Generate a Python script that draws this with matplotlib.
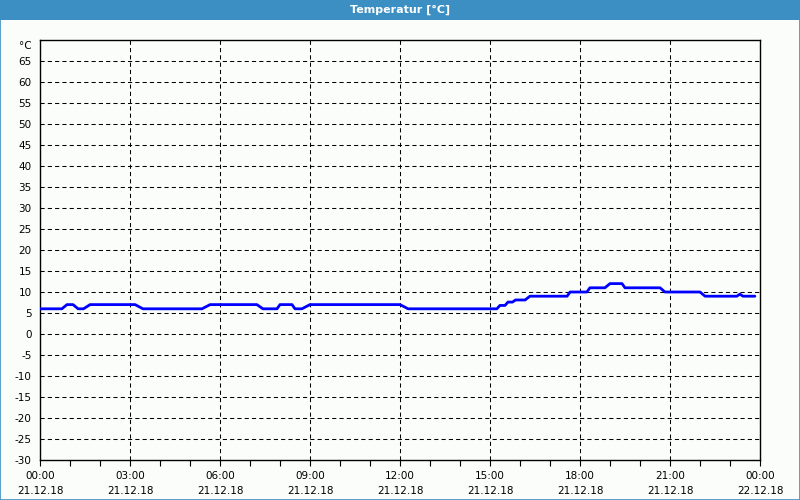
import matplotlib.pyplot as plt
from matplotlib.patches import Rectangle

# temperature log, hours after 21.12.18 00:00
hours = [0, 0.73, 0.9, 1.1, 1.27, 1.45, 1.67, 3.17, 3.43, 5.4, 5.67, 7.23, 7.43,
         7.9, 8.0, 8.4, 8.5, 8.73, 9.0, 12.0, 12.27, 15.23, 15.33, 15.5, 15.6,
         15.75, 15.85, 16.17, 16.33, 17.57, 17.67, 18.23, 18.33, 18.83, 19.0,
         19.4, 19.5, 20.67, 20.83, 22.0, 22.17, 23.23, 23.33, 23.43, 23.83]
temps = [6, 6, 7, 7, 6, 6, 7, 7, 6, 6, 7, 7, 6,
         6, 7, 7, 6, 6, 7, 7, 6, 6, 6.8, 6.8, 7.6,
         7.6, 8.1, 8.1, 9, 9, 10, 10, 11, 11, 12,
         12, 11, 11, 10, 10, 9, 9, 9.5, 9, 9]

tick_hours = [0, 3, 6, 9, 12, 15, 18, 21, 24]
tick_labels = ["00:00\n21.12.18", "03:00\n21.12.18", "06:00\n21.12.18",
               "09:00\n21.12.18", "12:00\n21.12.18", "15:00\n21.12.18",
               "18:00\n21.12.18", "21:00\n21.12.18", "00:00\n22.12.18"]
y_ticks = list(range(-30, 70, 5))

bg = "#fbfdfb"
bar = "#3b8fc3"

fig = plt.figure(figsize=(8, 5), dpi=100, facecolor=bg)

# title bar and window frame
fig.patches.append(Rectangle((0, 0.96), 1, 0.04, transform=fig.transFigure,
                             facecolor=bar, edgecolor="none", zorder=0))
fig.patches.append(Rectangle((0.0006, 0.001), 0.9988, 0.998, transform=fig.transFigure,
                             facecolor="none", edgecolor=bar, lw=1.2, zorder=5))
fig.text(0.5, 0.98, "Temperatur [°C]", color="white", fontsize=8, fontweight="bold",
         ha="center", va="center")

ax = fig.add_axes([0.05, 0.08, 0.9, 0.84])
ax.set_facecolor(bg)
ax.plot(hours, temps, color="#0000ff", lw=2.0, solid_joinstyle="round",
        solid_capstyle="round", zorder=3)

ax.set_xlim(0, 24)
ax.set_ylim(-30, 70)
ax.set_xticks(tick_hours)
ax.set_xticklabels(tick_labels, fontsize=7.5, linespacing=1.55)
ax.set_xticks(range(0, 25), minor=True)
ax.set_yticks(y_ticks)
ax.set_yticklabels([str(v) for v in y_ticks], fontsize=7.5)
ax.tick_params(axis="x", which="both", direction="out", length=4, width=0.8, pad=4)
ax.tick_params(axis="y", length=0, pad=6)
ax.text(-0.012, 0.985, "°C", transform=ax.transAxes, fontsize=7.5, ha="right", va="center")

for v in y_ticks[1:]:
    ax.axhline(v, color="black", lw=0.75, linestyle=(0, (4, 3)), zorder=1)
for h in tick_hours[1:-1]:
    ax.axvline(h, color="black", lw=0.75, linestyle=(0, (4, 3)), zorder=1)

for s in ax.spines.values():
    s.set_color("black")
    s.set_linewidth(1)

fig.savefig("out.png", dpi=100, facecolor=bg)
